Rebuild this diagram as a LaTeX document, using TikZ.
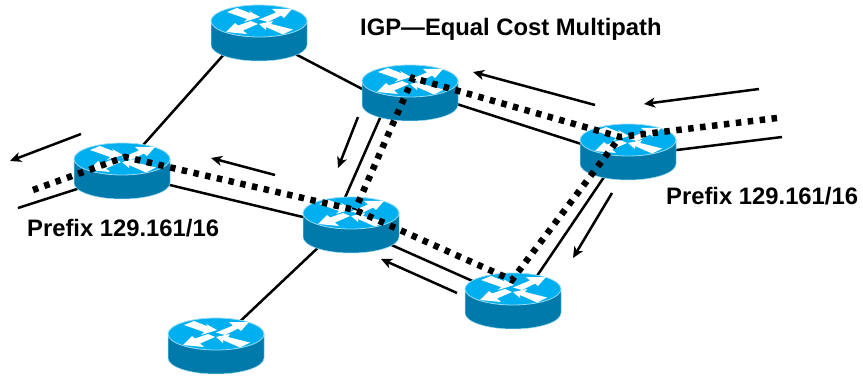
\documentclass[tikz,border=0pt]{standalone}
\usepackage{fontspec}
\setmainfont{Liberation Sans}
\usetikzlibrary{arrows.meta}
\definecolor{routertop}{RGB}{0,175,240}
\definecolor{routerside}{RGB}{0,122,170}
\definecolor{routerrim}{RGB}{150,220,245}
\tikzset{
  hub/.style={inner sep=0pt,minimum width=96pt,minimum height=56pt},
  link/.style={line width=2.5pt,black},
  flow/.style={line width=2.5pt,black,-{Stealth[length=11pt,width=10pt,inset=3pt]}},
  igp/.style={line width=6.5pt,black,dash pattern=on 5.5pt off 6.5pt},
  caption/.style={inner sep=0pt,font=\fontsize{23.8}{26}\selectfont\bfseries},
  router/.pic={
    \path[fill=routerside,draw=routerrim,line width=0.5pt] (-48,-12) -- (-48,12) arc[start angle=180,end angle=360,x radius=48,y radius=-16] -- (48,-12) -- cycle;
    \path[fill=routertop,draw=routerrim,line width=0.8pt] (0,-12) ellipse[x radius=48,y radius=16];
    \begin{scope}[shift={(0,-12)}]
    \fill[white] (-32,-9) -- (-22,-13) -- (-8,-7.5) -- (-10,-10) -- (1,-4) -- (-15,1) -- (-12,-2) -- cycle;
    \fill[white] (0,-1.5) -- (17,-8.5) -- (13,-12) -- (33,-12) -- (25,-3) -- (22,-5.5) -- (9,1) -- cycle;
    \fill[white] (-33,11) -- (-24,2) -- (-21,4.5) -- (-8,0) -- (-1,3) -- (-16,9.5) -- (-12,13) -- cycle;
    \fill[white] (0,3) -- (14,0) -- (12,3) -- (34,8.5) -- (24,13.5) -- (7,6) -- (7,9) -- cycle;
    \end{scope}
  }
}
\begin{document}
\begin{tikzpicture}[x=1pt,y=-1pt]
\useasboundingbox (0,0) rectangle (863,377);

\node[hub] (top) at (259,33) {};
\node[hub] (left) at (122,171) {};
\node[hub] (upper) at (410,93) {};
\node[hub] (right) at (628,152) {};
\node[hub] (mid) at (351,225) {};
\node[hub] (lower) at (513,301) {};
\node[hub] (bottom) at (216,346) {};

\coordinate (lstub) at (18,208);
\coordinate (rstub) at (782,137);

% solid links
\draw[link] ([shift={(-16,0)}]top.center) -- ([shift={(-2,0)}]left.center);
\draw[link] ([shift={(0,2)}]top.center) -- ([shift={(0,21)}]upper.center);
\draw[link] ([shift={(0,-4)}]upper.center) -- ([shift={(0,7)}]right.center);
\draw[link] ([shift={(-19,0)}]upper.center) -- ([shift={(-18,0)}]mid.center);
\draw[link] ([shift={(0,2.5)}]left.center) -- ([shift={(0,3.6)}]mid.center);
\draw[link] ([shift={(-9,0)}]mid.center) -- ([shift={(-2,0)}]bottom.center);
\draw[link] ([shift={(0,2)}]mid.center) -- ([shift={(0,-2)}]lower.center);
\draw[link] ([shift={(7,0)}]lower.center) -- ([shift={(-7,0)}]right.center);
\draw[link] (lstub) -- ([shift={(0,3.5)}]left.center);
\draw[link] (rstub) -- ([shift={(0,4)}]right.center);

\foreach \r in {top,left,upper,right,mid,lower,bottom}
  \pic at (\r.center) {router};

% traffic direction
\coordinate (a1s) at (81,134);
\coordinate (a1e) at (10,161);
\coordinate (a2s) at (275,175);
\coordinate (a2e) at (211,158);
\coordinate (a3s) at (358,117);
\coordinate (a3e) at (338,168);
\coordinate (a4s) at (595,105);
\coordinate (a4e) at (473,72);
\coordinate (a5s) at (759,89);
\coordinate (a5e) at (644,104);
\coordinate (a6s) at (457,293);
\coordinate (a6e) at (381,259);
\coordinate (a7s) at (612,193);
\coordinate (a7e) at (573,258);
\foreach \i in {1,...,7}
  \draw[flow] (a\i s) -- (a\i e);

% equal cost paths
\coordinate (dstart) at (33,190);
\coordinate (dend) at (777,118);
\coordinate (d1) at (125,157);
\coordinate (d2) at (355,210);
\coordinate (d3) at (512,280);
\coordinate (d4) at (620,137);
\coordinate (d5) at (413,78);
\draw[igp] (dstart) -- (d1) -- (d2) -- (d3) -- (d4);
\draw[igp] (dend) -- (d4) -- (d5) -- (d2);

\node[caption,anchor=west] (title) at (360,29) {IGP—Equal Cost Multipath};
\node[caption,anchor=west] (prefixl) at (27,228) {Prefix 129.161/16};
\node[caption,anchor=west] (prefixr) at (666,196) {Prefix 129.161/16};
\end{tikzpicture}
\end{document}
